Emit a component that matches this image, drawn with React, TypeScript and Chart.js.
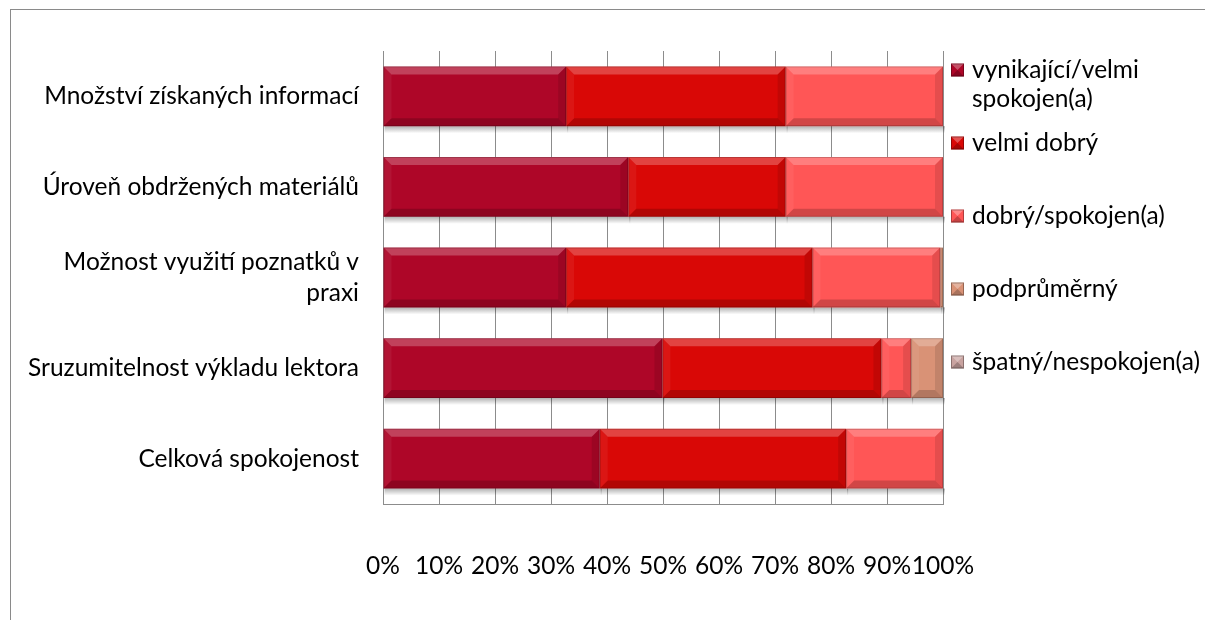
import React, { useEffect, useRef } from "react";
import { Chart, registerables } from "chart.js";

Chart.register(...registerables);

const categories: (string | string[])[] = [
  "Množství získaných informací",
  "Úroveň obdržených materiálů",
  ["Možnost využití poznatků v", "praxi"],
  "Sruzumitelnost výkladu lektora",
  "Celková spokojenost",
];

const seriesNames = [
  "vynikající/velmi spokojen(a)",
  "velmi dobrý",
  "dobrý/spokojen(a)",
  "podprůměrný",
  "špatný/nespokojen(a)",
];

const vynikajici = [32.7, 43.8, 32.7, 49.9, 38.7];
const velmiDobry = [39.2, 28.1, 44.0, 39.1, 44.0];
const dobry = [28.1, 28.1, 22.8, 5.3, 17.3];
const podprumerny = [0, 0, 0.5, 5.7, 0];
const spatny = [0, 0, 0, 0, 0];

const seriesValues = [vynikajici, velmiDobry, dobry, podprumerny, spatny];
const seriesColors = ["#AE0628", "#D90806", "#FF5656", "#D99276", "#C9A3A0"];

const xTickValues = [0, 10, 20, 30, 40, 50, 60, 70, 80, 90, 100];

const FONT = "Lato";
const FONT_SIZE = 24.5;

const framePlugin = {
  id: "frame",
  beforeDraw(chart: any) {
    const ctx = chart.ctx;
    ctx.save();
    ctx.fillStyle = "#ffffff";
    ctx.fillRect(0, 0, chart.width, chart.height);
    ctx.strokeStyle = "#8a8a8a";
    ctx.lineWidth = 1;
    ctx.strokeRect(10.5, 9.5, chart.width + 50, chart.height + 50);
    ctx.restore();
  },
};

function barRects(chart: any, cb: (l: number, r: number, t: number, b: number, i: number) => void) {
  chart.data.datasets.forEach((_ds: any, i: number) => {
    const meta = chart.getDatasetMeta(i);
    if (meta.hidden) return;
    meta.data.forEach((el: any) => {
      const p = el.getProps(["x", "y", "base", "height"], true);
      const l = Math.min(p.x, p.base);
      const r = Math.max(p.x, p.base);
      if (r - l < 0.5) return;
      cb(l, r, p.y - p.height / 2, p.y + p.height / 2, i);
    });
  });
}

function poly(ctx: CanvasRenderingContext2D, pts: number[][], fill: string) {
  ctx.beginPath();
  ctx.moveTo(pts[0][0], pts[0][1]);
  for (let k = 1; k < pts.length; k++) ctx.lineTo(pts[k][0], pts[k][1]);
  ctx.closePath();
  ctx.fillStyle = fill;
  ctx.fill();
}

const bevelPlugin = {
  id: "bevel",
  beforeDatasetsDraw(chart: any) {
    const ctx = chart.ctx;
    ctx.save();
    barRects(chart, (l, r, _t, b) => {
      const g = ctx.createLinearGradient(0, b, 0, b + 7);
      g.addColorStop(0, "rgba(0,0,0,0.30)");
      g.addColorStop(1, "rgba(0,0,0,0)");
      ctx.fillStyle = g;
      ctx.fillRect(l + 1, b, r - l + 1, 7);
    });
    ctx.restore();
  },
  afterDatasetsDraw(chart: any) {
    const ctx = chart.ctx;
    ctx.save();
    barRects(chart, (l, r, t, b) => {
      const s = Math.min(8, (r - l) / 2, (b - t) / 2);
      poly(ctx, [[l, t], [r, t], [r - s, t + s], [l + s, t + s]], "rgba(255,255,255,0.24)");
      poly(ctx, [[l, t], [l + s, t + s], [l + s, b - s], [l, b]], "rgba(255,255,255,0.06)");
      poly(ctx, [[r, t], [r, b], [r - s, b - s], [r - s, t + s]], "rgba(0,0,0,0.10)");
      poly(ctx, [[l, b], [l + s, b - s], [r - s, b - s], [r, b]], "rgba(0,0,0,0.18)");
      ctx.strokeStyle = "rgba(0,0,0,0.18)";
      ctx.lineWidth = 1;
      ctx.strokeRect(l + 0.5, t + 0.5, r - l - 1, b - t - 1);
    });
    ctx.restore();
  },
};

function wrapText(ctx: CanvasRenderingContext2D, text: string, maxW: number): string[] {
  const words = text.split(" ");
  const lines: string[] = [];
  let cur = "";
  for (const w of words) {
    const test = cur ? cur + " " + w : w;
    if (cur && ctx.measureText(test).width > maxW) {
      lines.push(cur);
      cur = w;
    } else {
      cur = test;
    }
  }
  if (cur) lines.push(cur);
  return lines;
}

const legendPlugin = {
  id: "sideLegend",
  afterDraw(chart: any) {
    const ctx = chart.ctx as CanvasRenderingContext2D;
    const area = chart.chartArea;
    const mx = area.right + 8;
    const tx = mx + 21;
    const maxW = chart.width - tx;
    ctx.save();
    ctx.font = `${FONT_SIZE}px ${FONT}`;
    ctx.textBaseline = "middle";
    ctx.textAlign = "left";
    chart.data.datasets.forEach((ds: any, i: number) => {
      const y = area.top + 19 + i * 73;
      const m = 13;
      const top = y - m / 2;
      ctx.fillStyle = ds.backgroundColor;
      ctx.fillRect(mx, top, m, m);
      poly(ctx, [[mx, top], [mx + m, top], [mx + m / 2, top + m / 2]], "rgba(255,255,255,0.30)");
      poly(ctx, [[mx, top + m], [mx + m, top + m], [mx + m / 2, top + m / 2]], "rgba(0,0,0,0.22)");
      ctx.strokeStyle = "rgba(0,0,0,0.3)";
      ctx.lineWidth = 1;
      ctx.strokeRect(mx + 0.5, top + 0.5, m - 1, m - 1);
      ctx.fillStyle = "#000000";
      const lines = wrapText(ctx, ds.label, maxW);
      lines.forEach((ln, k) => ctx.fillText(ln, tx, y + k * 29));
    });
    ctx.restore();
  },
};

export default function App() {
  const ref = useRef<HTMLCanvasElement | null>(null);

  useEffect(() => {
    let chart: Chart | null = null;
    let cancelled = false;
    const make = () => {
      if (cancelled || !ref.current) return;
      chart = new Chart(ref.current, {
        type: "bar",
        data: {
          labels: categories as any,
          datasets: seriesNames.map((name, i) => ({
            label: name,
            data: seriesValues[i],
            backgroundColor: seriesColors[i],
            borderWidth: 0,
            barPercentage: 0.66,
            categoryPercentage: 1,
          })),
        },
        options: {
          indexAxis: "y",
          animation: false,
          responsive: false,
          devicePixelRatio: 1,
          layout: { padding: { left: 0, right: 262, top: 51, bottom: 0 } },
          plugins: {
            legend: { display: false },
            tooltip: { enabled: false },
          },
          scales: {
            x: {
              stacked: true,
              min: 0,
              max: 100,
              afterBuildTicks: (scale: any) => {
                scale.ticks = xTickValues.map((v) => ({ value: v }));
              },
              afterFit: (scale: any) => {
                scale.height = 116;
              },
              grid: { color: "#8c8c8c", lineWidth: 1, drawTicks: false },
              border: { display: true, color: "#8c8c8c", width: 1 },
              ticks: {
                padding: 47,
                color: "#000000",
                font: { family: FONT, size: FONT_SIZE },
                callback: (v: any) => `${v}%`,
                maxRotation: 0,
                autoSkip: false,
              },
            },
            y: {
              stacked: true,
              afterFit: (scale: any) => {
                scale.width = 383;
              },
              grid: { display: false, drawTicks: false },
              border: { display: true, color: "#8c8c8c", width: 1 },
              ticks: {
                padding: 24,
                color: "#000000",
                font: { family: FONT, size: FONT_SIZE, lineHeight: 1.25 },
                crossAlign: "near",
                autoSkip: false,
              },
            },
          },
        },
        plugins: [framePlugin, bevelPlugin, legendPlugin],
      } as any);
    };
    const fontsApi = (document as any).fonts;
    if (fontsApi && fontsApi.load) {
      Promise.all([fontsApi.load(`${FONT_SIZE}px ${FONT}`)]).then(make, make);
    } else {
      make();
    }
    return () => {
      cancelled = true;
      if (chart) chart.destroy();
    };
  }, []);

  return (
    <div style={{ position: "fixed", left: 0, top: 0, width: 1205, height: 620, background: "#fff" }}>
      <canvas ref={ref} width={1205} height={620} style={{ display: "block", width: 1205, height: 620 }} />
    </div>
  );
}
